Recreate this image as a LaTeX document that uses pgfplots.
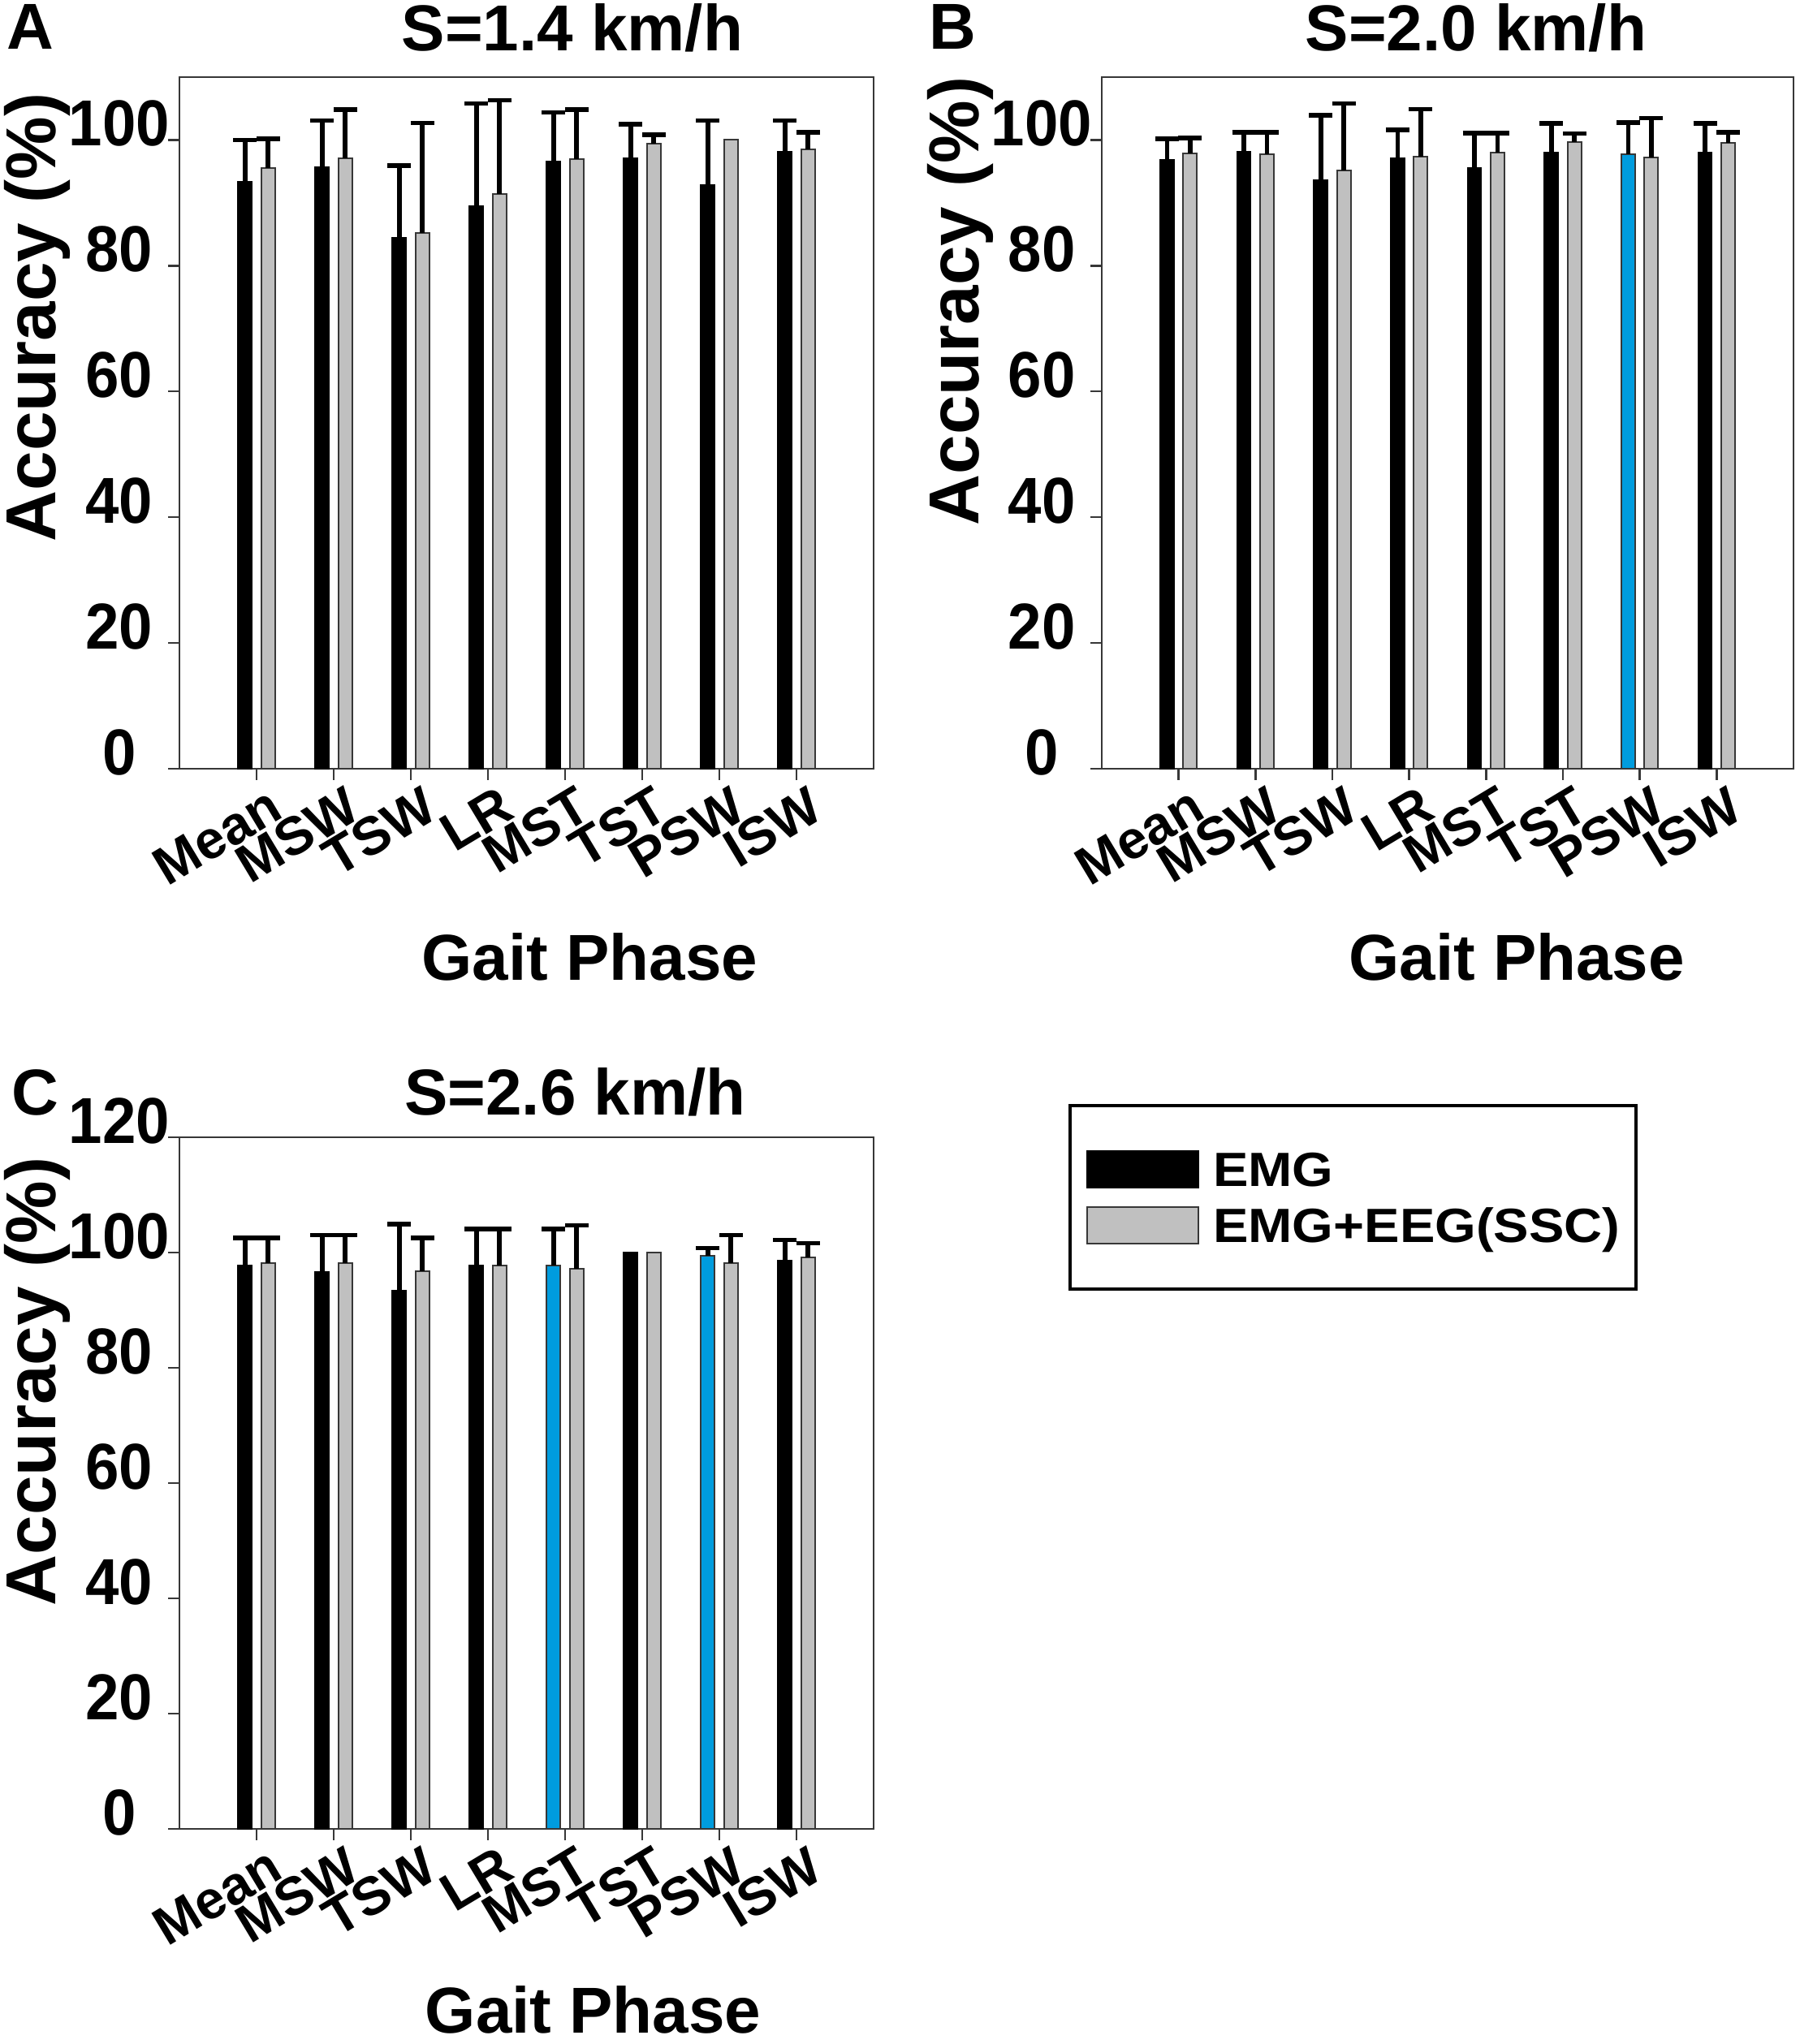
\documentclass[border=0pt]{standalone}
\usepackage{pgfplots}
\pgfplotsset{compat=1.18}
\usepackage{fontspec}
\setmainfont{Liberation Sans}
\newfontfamily\condfont{Liberation Sans}[FakeStretch=0.93]
\newfontfamily\widefont{Liberation Sans}[FakeStretch=1.1]

\definecolor{barblue}{RGB}{0,156,222}
\definecolor{bargray}{RGB}{192,192,192}
\definecolor{axgray}{RGB}{55,55,55}

\pgfplotsset{
  every axis title shift=0pt,
  panel/.style={
    scale only axis, width=213.75pt, height=213pt,
    xmin=-1, xmax=8, ymin=0, clip=false,
    xtick={0,...,7}, xticklabels={Mean,MSW,TSW,LR,MST,TST,PSW,ISW},
    tick align=outside, xtick pos=bottom, ytick pos=left,
    major tick length=3.5pt,
    axis line style={axgray, line width=0.6pt},
    every tick/.style={axgray, line width=0.6pt},
    /pgf/number format/assume math mode=true,
    yticklabel style={font=\condfont\bfseries\fontsize{20}{24}\selectfont, anchor=center, xshift=-15pt, yshift=5pt},
    xticklabel style={font=\bfseries\fontsize{16.5}{20}\selectfont, rotate=31, anchor=north east, inner sep=0pt, xshift=2pt, yshift=-2.5pt},
    xlabel style={font=\bfseries\fontsize{20}{24}\selectfont},
    ylabel style={font=\bfseries\fontsize{21.8}{26}\selectfont},
    title style={font=\bfseries\fontsize{20}{24}\selectfont},
  },
  emg/.style={ybar, bar width=0.18, bar shift=0pt, fill=black, draw=black, line width=0.4pt},
  emgblue/.style={ybar, bar width=0.18, bar shift=0pt, fill=barblue, draw=axgray, line width=0.5pt},
  eeg/.style={ybar, bar width=0.18, bar shift=0pt, fill=bargray, draw=axgray, line width=0.5pt},
  ebar/.style={error bars/.cd, y dir=plus, y explicit,
    error bar style={line width=1.4pt, black},
    error mark options={rotate=90, line width=1.4pt, mark size=3.6pt, black}},
}

\begin{document}
\begin{tikzpicture}
\useasboundingbox (0,0) rectangle (554.25pt,629.5pt);

% ---------------- Panel A ----------------
\begin{axis}[panel, at={(55.25pt,392.75pt)}, anchor=south west,
  ymax=110, ytick={0,20,...,100},
  title={S=1.4 km/h}, title style={at={(axis description cs:0.566,1.0376)}, anchor=base},
  xlabel={Gait Phase}, xlabel style={at={(axis description cs:0.591,-0.306)}, anchor=base},
  ylabel={Accuracy (\%)}, ylabel style={at={(axis description cs:-0.178,0.6526)}, anchor=base},
]
% EMG (x shifted -0.15 from the category)
\addplot[emg, ebar] coordinates {
  (-0.15,93.4) +- (0,6.6)  (0.85,95.7) +- (0,7.4)  (1.85,84.4) +- (0,11.5) (2.85,89.5) +- (0,16.3)
  (3.85,96.6) +- (0,7.8)  (4.85,97.1) +- (0,5.4)  (5.85,92.9) +- (0,10.2) (6.85,98.1) +- (0,5.0)};
% EMG+EEG(SSC) (x shifted +0.15)
\addplot[eeg, ebar] coordinates {
  (0.15,95.6) +- (0,4.6)  (1.15,97.1) +- (0,7.7)  (2.15,85.2) +- (0,17.5) (3.15,91.4) +- (0,14.9)
  (4.15,97.0) +- (0,7.8)  (5.15,99.4) +- (0,1.4)  (7.15,98.5) +- (0,2.7)};
\addplot[eeg] coordinates {(6.15,100.0)};
\node[font=\bfseries\fontsize{20}{24}\selectfont, anchor=base west, inner sep=0pt] at (axis description cs:-0.250,1.040) {A};
\end{axis}

% ---------------- Panel B ----------------
\begin{axis}[panel, at={(339.25pt,392.75pt)}, anchor=south west, width=213pt,
  ymax=110, ytick={0,20,...,100},
  title={S=2.0 km/h}, title style={at={(axis description cs:0.541,1.0376)}, anchor=base},
  xlabel={Gait Phase}, xlabel style={at={(axis description cs:0.600,-0.306)}, anchor=base},
  ylabel={Accuracy (\%)}, ylabel style={at={(axis description cs:-0.178,0.676)}, anchor=base},
]
\addplot[emg, ebar] coordinates {
  (-0.15,96.8) +- (0,3.4)  (0.85,98.1) +- (0,3.1)  (1.85,93.6) +- (0,10.3) (2.85,97.1) +- (0,4.5)
  (3.85,95.5) +- (0,5.6)  (4.85,98.0) +- (0,4.6)  (6.85,98.0) +- (0,4.6)};
\addplot[emgblue, ebar] coordinates {(5.85,97.7) +- (0,5.1)};
\addplot[eeg, ebar] coordinates {
  (0.15,97.9) +- (0,2.4)  (1.15,97.7) +- (0,3.5)  (2.15,95.1) +- (0,10.7) (3.15,97.3) +- (0,7.6)
  (4.15,98.0) +- (0,3.1)  (5.15,99.7) +- (0,1.3)  (6.15,97.2) +- (0,6.3)  (7.15,99.6) +- (0,1.6)};
\node[font=\bfseries\fontsize{20}{24}\selectfont, anchor=base west, inner sep=0pt] at (axis description cs:-0.250,1.040) {B};
\end{axis}

% ---------------- Panel C ----------------
\begin{axis}[panel, at={(55.25pt,66.25pt)}, anchor=south west,
  ymax=120, ytick={0,20,...,120},
  title={S=2.6 km/h}, title style={at={(axis description cs:0.570,1.032)}, anchor=base},
  xlabel={Gait Phase}, xlabel style={at={(axis description cs:0.596,-0.295)}, anchor=base},
  ylabel={Accuracy (\%)}, ylabel style={at={(axis description cs:-0.178,0.647)}, anchor=base},
  legend cell align=left,
  legend style={at={(axis description cs:1.281,1.048)}, anchor=north west,
    draw=black, line width=1pt, inner xsep=5pt, inner ysep=13.75pt, row sep=5.5pt,
    font=\widefont\bfseries\fontsize{14.8}{16}\selectfont,
    nodes={inner sep=0pt, text height=10.6pt, text depth=0pt}},
  legend image code/.code={\draw[#1, line width=0.5pt] (0pt,-5.625pt) rectangle (34.25pt,5.625pt); \path (38.5pt,0pt);},
]
\addplot[emg, ebar] coordinates {
  (-0.15,97.8) +- (0,4.7)  (0.85,96.7) +- (0,6.3)  (1.85,93.4) +- (0,11.5) (2.85,97.8) +- (0,6.3)
  (6.85,98.6) +- (0,3.6)};
\addlegendentry{EMG}
\addplot[eeg, ebar] coordinates {
  (0.15,98.1) +- (0,4.4)  (1.15,98.1) +- (0,4.9)  (2.15,96.7) +- (0,5.8)  (3.15,97.8) +- (0,6.3)
  (4.15,97.2) +- (0,7.5)  (6.15,98.1) +- (0,4.9)  (7.15,99.1) +- (0,2.5)};
\addlegendentry{EMG+EEG(SSC)}
\addplot[forget plot, emgblue, ebar] coordinates {(3.85,97.8) +- (0,6.3) (5.85,99.5) +- (0,1.3)};
\addplot[forget plot, emg] coordinates {(4.85,100.0)};
\addplot[forget plot, eeg] coordinates {(5.15,100.0)};
\node[font=\bfseries\fontsize{20}{24}\selectfont, anchor=base west, inner sep=0pt] at (axis description cs:-0.243,1.032) {C};
\end{axis}
\end{tikzpicture}
\end{document}
